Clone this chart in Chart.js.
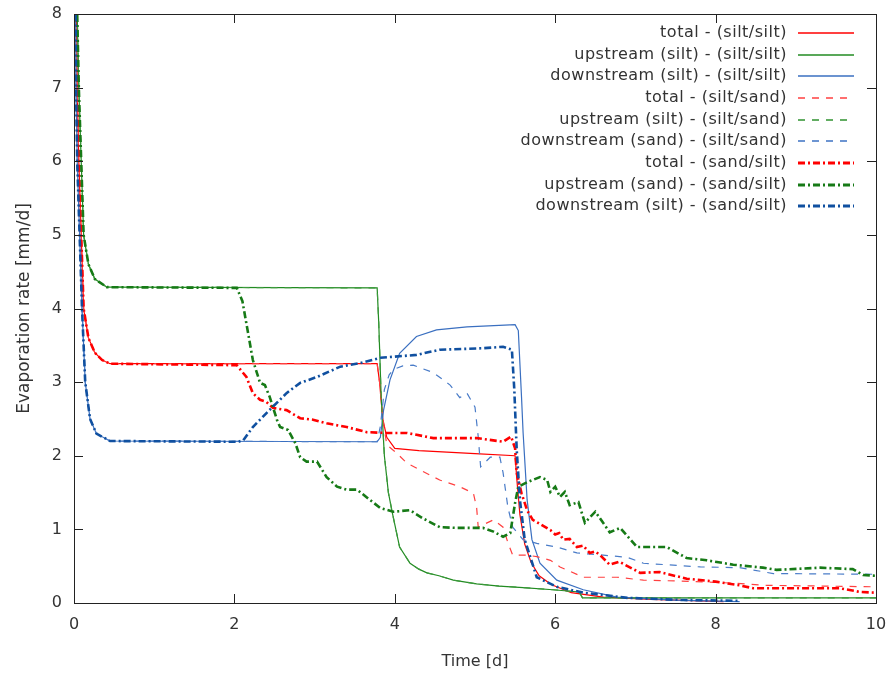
<!DOCTYPE html>
<html>
<head>
<meta charset="utf-8">
<script src="https://cdn.jsdelivr.net/npm/chart.js@4.4.1/dist/chart.umd.min.js"></script>
<style>
  html, body { margin: 0; padding: 0; background: #fff; }
  #wrap { width: 891px; height: 675px; }
</style>
</head>
<body>
<div id="wrap"><canvas id="c" width="891" height="675"></canvas></div>
<script>
// ---------- data (time [d], evaporation rate [mm/d]) ----------
const xTicks = [0, 2, 4, 6, 8, 10];
const yTicks = [0, 1, 2, 3, 4, 5, 6, 7, 8];

const seriesLabels = [
  "total - (silt/silt)",
  "upstream (silt) - (silt/silt)",
  "downstream (silt) - (silt/silt)",
  "total - (silt/sand)",
  "upstream (silt) - (silt/sand)",
  "downstream (sand) - (silt/sand)",
  "total - (sand/silt)",
  "upstream (sand) - (sand/silt)",
  "downstream (silt) - (sand/silt)"
];

const totalSiltSilt = [[0,8.6],[0.03,8.0],[0.04,7.0],[0.06,6.0],[0.09,5.0],[0.12,4.0],[0.18,3.6],[0.26,3.4],[0.35,3.3],[0.45,3.25],[3.78,3.25],[3.81,3.0],[3.85,2.5],[3.9,2.25],[4.0,2.1],[4.3,2.07],[5.0,2.03],[5.5,2.0],[5.52,1.7],[5.56,1.2],[5.62,0.8],[5.7,0.55],[5.8,0.37],[5.95,0.25],[6.2,0.14],[6.6,0.08],[7.2,0.05],[8.1,0.02]];

const upSiltSilt = [[0,8.8],[0.04,8.0],[0.06,7.0],[0.09,6.0],[0.12,5.0],[0.18,4.6],[0.26,4.4],[0.41,4.29],[3.78,4.28],[3.8,3.8],[3.83,2.8],[3.87,2.0],[3.92,1.5],[3.97,1.22],[4.06,0.76],[4.19,0.54],[4.3,0.46],[4.4,0.41],[4.55,0.37],[4.73,0.31],[5.02,0.26],[5.3,0.23],[5.6,0.21],[5.97,0.18],[6.3,0.15],[6.34,0.07],[10,0.07]];

const downSiltSilt = [[0,8.4],[0.02,8.0],[0.025,7.0],[0.04,6.0],[0.07,5.0],[0.1,4.0],[0.14,3.0],[0.2,2.5],[0.28,2.3],[0.45,2.2],[3.78,2.19],[3.82,2.25],[3.86,2.62],[3.94,3.03],[4.06,3.39],[4.27,3.62],[4.52,3.71],[4.9,3.75],[5.5,3.78],[5.54,3.7],[5.58,2.8],[5.6,2.31],[5.65,1.4],[5.71,0.86],[5.81,0.54],[6.02,0.31],[6.35,0.18],[6.77,0.08],[7.5,0.04],[8.3,0.02]];

const totalSiltSand = [[0,8.6],[0.03,8.0],[0.04,7.0],[0.06,6.0],[0.09,5.0],[0.12,4.0],[0.18,3.6],[0.26,3.4],[0.35,3.3],[0.45,3.25],[3.78,3.25],[3.81,3.0],[3.85,2.5],[3.9,2.15],[4.03,2.03],[4.15,1.9],[4.31,1.81],[4.56,1.67],[4.81,1.58],[4.98,1.49],[5.02,1.3],[5.04,1.03],[5.23,1.13],[5.35,1.03],[5.41,0.82],[5.47,0.65],[5.65,0.65],[5.77,0.63],[5.94,0.58],[6.06,0.49],[6.35,0.35],[6.77,0.35],[7.1,0.31],[7.5,0.3],[8.22,0.27],[8.64,0.24],[10,0.22]];

const upSiltSand = [[0,8.8],[0.04,8.0],[0.06,7.0],[0.09,6.0],[0.12,5.0],[0.18,4.6],[0.26,4.4],[0.41,4.29],[3.78,4.28],[3.8,3.8],[3.83,2.8],[3.87,2.0],[3.92,1.5],[3.97,1.22],[4.06,0.76],[4.19,0.54],[4.3,0.46],[4.4,0.41],[4.55,0.37],[4.73,0.31],[5.02,0.26],[5.3,0.23],[5.6,0.21],[5.97,0.18],[6.3,0.15],[6.34,0.07],[10,0.07]];

const downSiltSand = [[0,8.4],[0.02,8.0],[0.025,7.0],[0.04,6.0],[0.07,5.0],[0.1,4.0],[0.14,3.0],[0.2,2.5],[0.28,2.3],[0.45,2.2],[3.78,2.19],[3.82,2.4],[3.87,2.9],[3.93,3.1],[3.98,3.17],[4.1,3.22],[4.23,3.23],[4.48,3.13],[4.69,2.96],[4.81,2.79],[4.9,2.85],[5.0,2.66],[5.04,2.26],[5.07,1.85],[5.19,1.98],[5.31,1.98],[5.35,1.77],[5.41,1.3],[5.47,1.03],[5.6,0.86],[5.77,0.81],[6.02,0.76],[6.27,0.68],[6.6,0.65],[6.9,0.62],[7.1,0.54],[7.81,0.49],[8.3,0.48],[8.72,0.4],[10,0.39]];

const totalSandSilt = [[0,8.6],[0.03,8.0],[0.04,7.0],[0.06,6.0],[0.09,5.0],[0.12,4.0],[0.18,3.6],[0.26,3.4],[0.35,3.3],[0.45,3.25],[2.03,3.23],[2.15,3.07],[2.23,2.85],[2.32,2.76],[2.4,2.73],[2.48,2.65],[2.65,2.62],[2.82,2.51],[2.98,2.49],[3.15,2.44],[3.4,2.39],[3.65,2.32],[3.9,2.31],[4.15,2.31],[4.48,2.24],[5.02,2.24],[5.35,2.19],[5.45,2.26],[5.5,2.1],[5.52,1.77],[5.58,1.49],[5.65,1.26],[5.72,1.13],[5.94,0.99],[6.0,0.93],[6.05,0.95],[6.1,0.86],[6.18,0.87],[6.27,0.76],[6.35,0.78],[6.43,0.68],[6.5,0.7],[6.56,0.65],[6.68,0.52],[6.8,0.56],[7.06,0.41],[7.3,0.42],[7.64,0.33],[8.0,0.29],[8.3,0.24],[8.47,0.2],[9.55,0.2],[9.8,0.15],[10,0.14]];

const upSandSilt = [[0,8.8],[0.04,8.0],[0.06,7.0],[0.09,6.0],[0.12,5.0],[0.18,4.6],[0.26,4.4],[0.41,4.29],[2.03,4.28],[2.1,4.1],[2.17,3.67],[2.23,3.3],[2.32,2.99],[2.38,2.96],[2.44,2.8],[2.53,2.49],[2.57,2.39],[2.67,2.35],[2.76,2.17],[2.82,1.98],[2.9,1.92],[3.03,1.92],[3.15,1.71],[3.28,1.58],[3.4,1.54],[3.53,1.54],[3.69,1.4],[3.82,1.29],[3.98,1.24],[4.19,1.26],[4.35,1.15],[4.56,1.03],[4.78,1.02],[5.1,1.02],[5.23,0.97],[5.35,0.9],[5.44,0.95],[5.5,1.36],[5.54,1.58],[5.65,1.64],[5.81,1.71],[5.9,1.67],[5.94,1.51],[6.0,1.58],[6.06,1.44],[6.12,1.51],[6.18,1.33],[6.29,1.37],[6.37,1.09],[6.5,1.24],[6.68,0.96],[6.81,1.02],[7.02,0.76],[7.39,0.76],[7.64,0.61],[7.89,0.58],[8.22,0.52],[8.59,0.48],[8.76,0.45],[9.3,0.48],[9.71,0.46],[9.84,0.38],[10,0.37]];

const downSandSilt = [[0,8.4],[0.02,8.0],[0.025,7.0],[0.04,6.0],[0.07,5.0],[0.1,4.0],[0.14,3.0],[0.2,2.5],[0.28,2.3],[0.45,2.2],[2.05,2.19],[2.11,2.21],[2.23,2.39],[2.4,2.58],[2.65,2.85],[2.82,2.99],[3.03,3.07],[3.32,3.21],[3.57,3.26],[3.82,3.33],[4.27,3.37],[4.56,3.44],[5.1,3.46],[5.35,3.48],[5.46,3.44],[5.49,2.9],[5.52,2.08],[5.56,1.4],[5.62,0.86],[5.77,0.35],[6.02,0.22],[6.35,0.14],[6.9,0.07],[7.6,0.04],[8.3,0.03]];

// ---------- styling ----------
const allSeries = [totalSiltSilt, upSiltSilt, downSiltSilt, totalSiltSand, upSiltSand, downSiltSand, totalSandSilt, upSandSilt, downSandSilt];
const colors = ['#ff0000', '#228b22', '#3a6fc0', '#ff4040', '#3c9a3c', '#4a7cc8', '#ff0000', '#167a16', '#1050a0'];
const widths = [1.2, 1.2, 1.2, 1.2, 1.2, 1.2, 2.6, 2.6, 2.6];
const dashes = [[], [], [], [7, 7], [7, 7], [7, 7], [7, 3, 2, 3], [7, 3, 2, 3], [7, 3, 2, 3]];
const FONT = '"DejaVu Sans", sans-serif';

const datasets = allSeries.map((s, i) => ({
  label: seriesLabels[i],
  data: s.map(p => ({ x: p[0], y: p[1] })),
  showLine: true,
  pointRadius: 0,
  borderColor: colors[i],
  backgroundColor: colors[i],
  borderWidth: widths[i],
  borderDash: dashes[i],
  tension: 0,
  fill: false,
  order: 9 - i
}));

const framePlugin = {
  id: 'frame',
  afterDraw(chart) {
    const { ctx, chartArea: a, scales } = chart;
    ctx.save();
    ctx.strokeStyle = '#222';
    ctx.lineWidth = 1;
    ctx.setLineDash([]);
    ctx.strokeRect(Math.round(a.left) + 0.5, Math.round(a.top) + 0.5, Math.round(a.right - a.left), Math.round(a.bottom - a.top));
    const tl = 9;
    ctx.beginPath();
    xTicks.forEach(v => {
      const x = Math.round(scales.x.getPixelForValue(v)) + 0.5;
      ctx.moveTo(x, a.bottom); ctx.lineTo(x, a.bottom - tl);
      ctx.moveTo(x, a.top); ctx.lineTo(x, a.top + tl);
    });
    yTicks.forEach(v => {
      const y = Math.round(scales.y.getPixelForValue(v)) + 0.5;
      ctx.moveTo(a.left, y); ctx.lineTo(a.left + tl, y);
      ctx.moveTo(a.right, y); ctx.lineTo(a.right - tl, y);
    });
    ctx.stroke();

    // legend (inside, top right: text right-aligned, then sample line)
    ctx.font = '16px ' + FONT;
    if ('letterSpacing' in ctx) ctx.letterSpacing = '0.5px';
    ctx.textAlign = 'right';
    ctx.textBaseline = 'middle';
    seriesLabels.forEach((label, i) => {
      const y = Math.round(a.top + 19 + i * 21.65);
      ctx.fillStyle = '#333';
      ctx.fillText(label, a.right - 89, y);
    });
    seriesLabels.forEach((label, i) => {
      const y = Math.round(a.top + 19 + i * 21.65);
      const thick = widths[i] > 2;
      ctx.beginPath();
      ctx.strokeStyle = colors[i];
      ctx.lineWidth = thick ? 3 : 1.6;
      ctx.setLineDash(dashes[i]);
      ctx.moveTo(a.right - 78, y);
      ctx.lineTo(a.right - 22, y);
      ctx.stroke();
    });
    ctx.restore();
  }
};

new Chart(document.getElementById('c'), {
  type: 'scatter',
  data: { datasets },
  options: {
    responsive: false,
    animation: false,
    layout: { padding: { left: 0, right: 15, top: 14, bottom: 0 } },
    plugins: { legend: { display: false }, tooltip: { enabled: false } },
    scales: {
      x: {
        type: 'linear', min: 0, max: 10,
        afterFit(s) { s.height = 72; s.paddingLeft = 0; s.paddingRight = 0; },
        afterBuildTicks(s) { s.ticks = xTicks.map(v => ({ value: v })); },
        ticks: { color: '#333', font: { family: FONT, size: 16 }, padding: 12 },
        grid: { display: false, drawTicks: false },
        border: { display: false },
        title: { display: true, text: 'Time [d]', color: '#333', font: { family: FONT, size: 16 }, padding: { top: 0, bottom: 4 } }
      },
      y: {
        type: 'linear', min: 0, max: 8,
        afterFit(s) { s.width = 74; s.paddingTop = 0; s.paddingBottom = 0; },
        afterBuildTicks(s) { s.ticks = yTicks.map(v => ({ value: v })); },
        ticks: { color: '#333', font: { family: FONT, size: 16 }, padding: 12 },
        grid: { display: false, drawTicks: false },
        border: { display: false },
        title: { display: true, text: 'Evaporation rate [mm/d]', color: '#333', font: { family: FONT, size: 17 }, padding: { top: 14, bottom: 0 } }
      }
    }
  },
  plugins: [framePlugin]
});
</script>
</body>
</html>
